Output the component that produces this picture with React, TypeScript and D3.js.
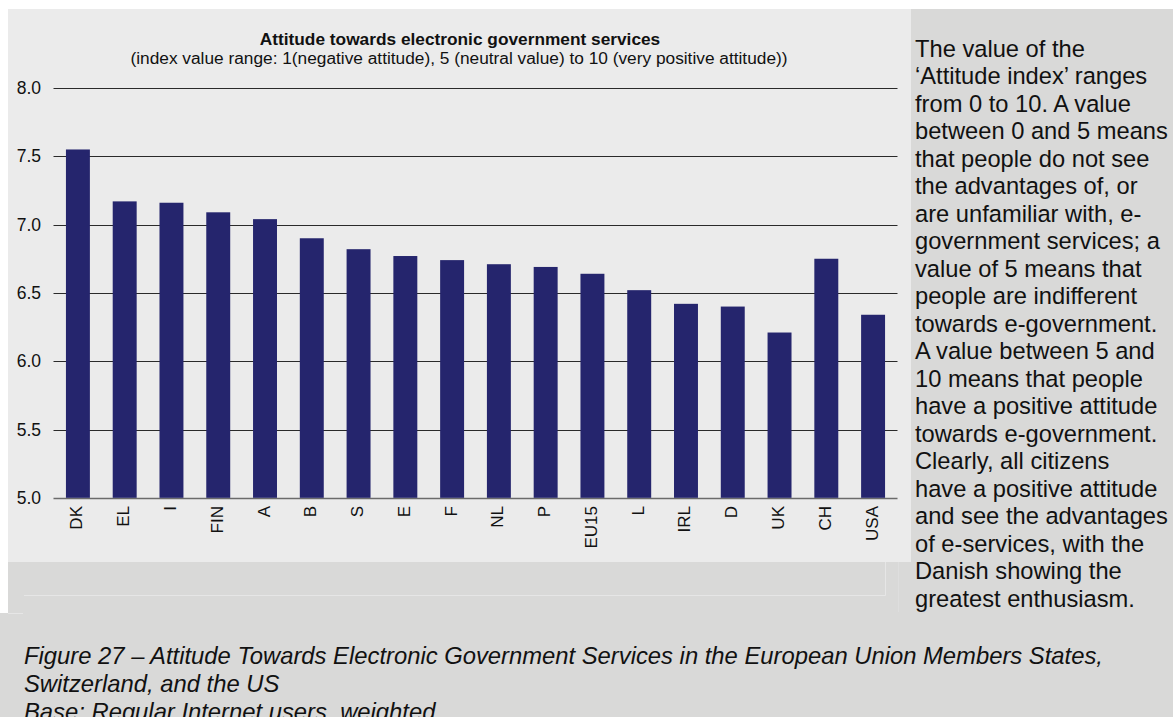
import React from "react";
import * as d3 from "d3";

const categories = ["DK", "EL", "I", "FIN", "A", "B", "S", "E", "F", "NL", "P", "EU15", "L", "IRL", "D", "UK", "CH", "USA"];
const values = [7.55, 7.17, 7.16, 7.09, 7.04, 6.9, 6.82, 6.77, 6.74, 6.71, 6.69, 6.64, 6.52, 6.42, 6.4, 6.21, 6.75, 6.34];
const yTicks = [5.0, 5.5, 6.0, 6.5, 7.0, 7.5, 8.0];

const chartTitle = "Attitude towards electronic government services";
const chartSubtitle = "(index value range: 1(negative attitude), 5 (neutral value) to 10 (very positive attitude))";

const sideLines = [
  "The value of the",
  "\u2018Attitude index\u2019 ranges",
  "from 0 to 10. A value",
  "between 0 and 5 means",
  "that people do not see",
  "the advantages of, or",
  "are unfamiliar with, e-",
  "government services; a",
  "value of 5 means that",
  "people are indifferent",
  "towards e-government.",
  "A value between 5 and",
  "10 means that people",
  "have a positive attitude",
  "towards e-government.",
  "Clearly, all citizens",
  "have a positive attitude",
  "and see the advantages",
  "of e-services, with the",
  "Danish showing the",
  "greatest enthusiasm.",
];

const captionLines = [
  "Figure 27 \u2013 Attitude Towards Electronic Government Services in the European Union Members States,",
  "Switzerland, and the US",
  "Base: Regular Internet users, weighted",
];

const W = 1173;
const H = 717;
const FONT = "'Liberation Sans', Arial, Helvetica, sans-serif";

export default function App() {
  const x = d3
    .scaleBand<string>()
    .domain(categories)
    .range([53.5, 897.5])
    .paddingInner(0.488)
    .paddingOuter(0.266);
  const y = d3.scaleLinear().domain([5, 8]).range([497.8, 88]);

  return (
    <svg
      width={W}
      height={H}
      style={{ position: "absolute", left: 0, top: 0, display: "block" }}
      fontFamily={FONT}
    >
      <rect x={0} y={0} width={W} height={H} fill="#ffffff" />
      <rect x={8} y={9} width={W - 8} height={H - 9} fill="#D9D9D8" />
      <rect x={0} y={613} width={W} height={H - 613} fill="#D9D9D8" />
      {/* chart panel */}
      <rect x={8} y={9} width={903} height={553} fill="#EBEBEB" />
      {/* faint frame lines */}
      <line x1={24} x2={885.5} y1={595.5} y2={595.5} stroke="#E6E6E6" strokeWidth={1} />
      <line x1={885.5} x2={885.5} y1={562} y2={595.5} stroke="#E6E6E6" strokeWidth={1} />
      <line x1={8} x2={23} y1={613.5} y2={613.5} stroke="#E6E6E6" strokeWidth={1} />
      <line x1={898.5} x2={898.5} y1={562} y2={612} stroke="#DEDEDE" strokeWidth={1} />

      {/* title */}
      <text x={460} y={44.7} textAnchor="middle" fontSize={17.3} fontWeight="bold" fill="#111">
        {chartTitle}
      </text>
      <text x={459} y={64.4} textAnchor="middle" fontSize={17.3} fill="#111">
        {chartSubtitle}
      </text>

      {/* gridlines */}
      {yTicks.map((t) => {
        const yy = Math.round(y(t)) + 0.5;
        return (
          <g key={t}>
            <line
              x1={53.5}
              x2={897.5}
              y1={yy}
              y2={yy}
              stroke={t === 5 ? "#6b6b6b" : "#2a2a2a"}
              strokeWidth={t === 5 ? 1.5 : 1}
            />
            <text
              x={41}
              y={y(t)}
              textAnchor="end"
              dominantBaseline="central"
              fontSize={17.5}
              fill="#111"
            >
              {t.toFixed(1)}
            </text>
          </g>
        );
      })}

      {/* bars */}
      {categories.map((c, i) => (
        <rect
          key={c}
          x={x(c)}
          y={y(values[i])}
          width={x.bandwidth()}
          height={y(5) - y(values[i])}
          fill="#25256D"
        />
      ))}

      {/* category labels */}
      {categories.map((c) => {
        const cx = (x(c) as number) + x.bandwidth() / 2 - 1;
        return (
          <text
            key={c}
            transform={`translate(${cx},506) rotate(-90)`}
            textAnchor="end"
            dominantBaseline="central"
            fontSize={17}
            fill="#111"
          >
            {c}
          </text>
        );
      })}

      {/* side text */}
      {sideLines.map((l, i) => (
        <text key={i} x={915} y={56.7 + i * 27.5} fontSize={23.7} fill="#111">
          {l}
        </text>
      ))}

      {/* caption */}
      {captionLines.map((l, i) => (
        <text key={i} x={24} y={663.5 + i * 28.2} fontSize={23.8} fontStyle="italic" fill="#111">
          {l}
        </text>
      ))}
    </svg>
  );
}
